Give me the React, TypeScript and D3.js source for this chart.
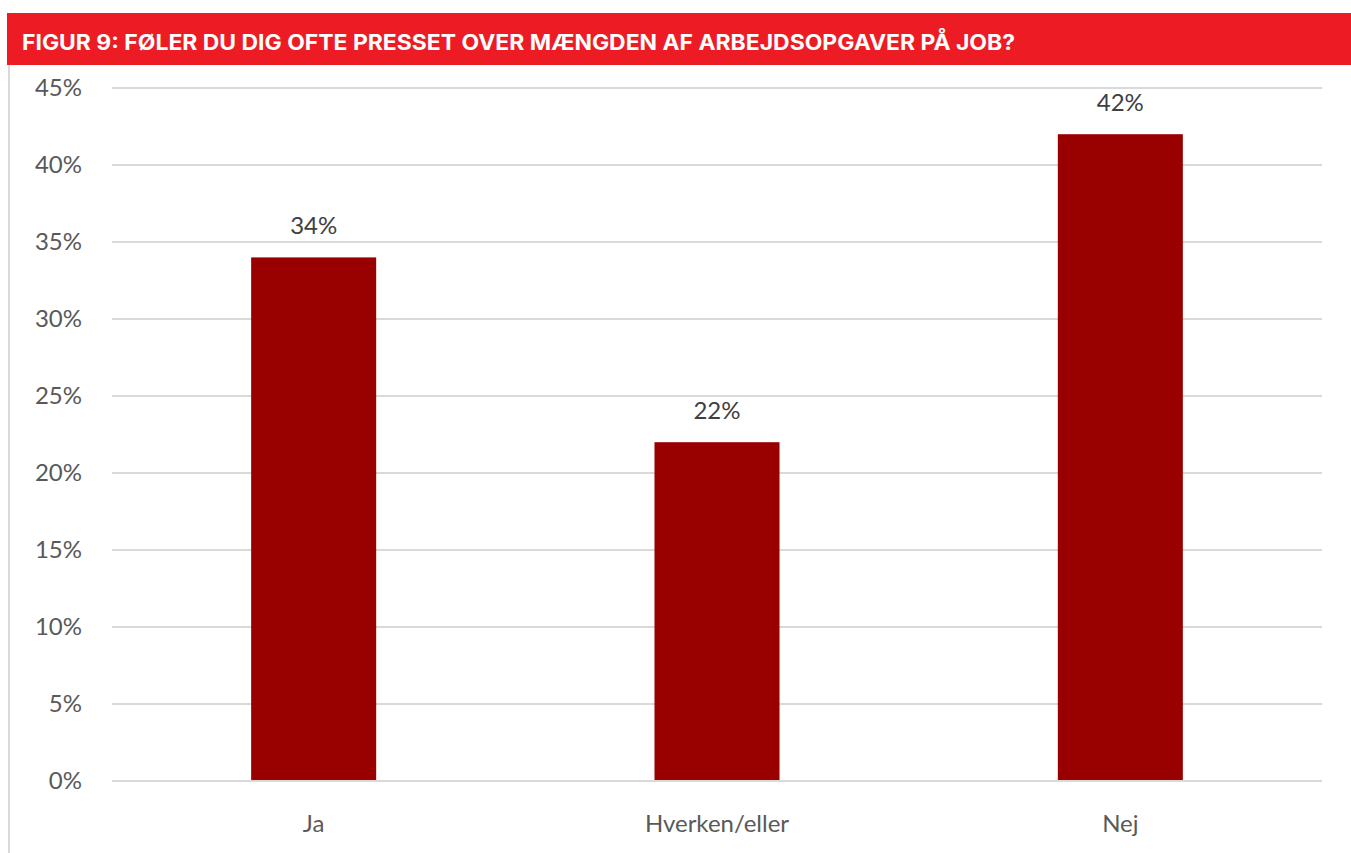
import React from 'react';
import * as d3 from 'd3';

const categories = ['Ja', 'Hverken/eller', 'Nej'];
const values = [0.34, 0.22, 0.42];
const yTicks = [0, 0.05, 0.1, 0.15, 0.2, 0.25, 0.3, 0.35, 0.4, 0.45];
const title = 'FIGUR 9: FØLER DU DIG OFTE PRESSET OVER MÆNGDEN AF ARBEJDSOPGAVER PÅ JOB?';

const W = 1351;
const H = 853;
const margin = { top: 88, right: 29, bottom: 72, left: 112 };

export default function App() {
  const x = d3
    .scaleBand()
    .domain(categories)
    .range([margin.left, W - margin.right])
    .paddingInner(0.69)
    .paddingOuter(0.345);
  const y = d3.scaleLinear().domain([0, 0.45]).range([H - margin.bottom, margin.top]);
  const fmt = d3.format('.0%');
  const font = 'Lato, "Open Sans", sans-serif';

  return (
    <svg
      width={W}
      height={H}
      style={{ position: 'absolute', left: 0, top: 0, background: '#fff' }}
    >
      {/* title band */}
      <rect x={7} y={13} width={W - 7} height={52} fill="#ed1c24" />
      <text
        x={22}
        y={50}
        fill="#fff"
        fontFamily='Inter, "Open Sans", sans-serif'
        fontWeight={700}
        fontSize={21.5}
        textLength={993}
        lengthAdjust="spacingAndGlyphs"
      >
        {title}
      </text>
      {/* left frame line */}
      <line x1={9} x2={9} y1={65} y2={H} stroke="#d9d9d9" strokeWidth={2} />

      {/* gridlines and tick labels */}
      {yTicks.map((t) => (
        <g key={t}>
          <line
            x1={margin.left}
            x2={W - margin.right}
            y1={y(t)}
            y2={y(t)}
            stroke="#d9d9d9"
            strokeWidth={2}
          />
          <text
            x={82}
            y={y(t)}
            dy="0.35em"
            textAnchor="end"
            fill="#595959"
            fontFamily={font}
            fontSize={24}
          >
            {fmt(t)}
          </text>
        </g>
      ))}

      {/* bars */}
      {categories.map((c, i) => (
        <g key={c}>
          <rect
            x={x(c)}
            y={y(values[i])}
            width={x.bandwidth()}
            height={y(0) - y(values[i]) - 1}
            fill="#990000"
          />
          <text
            x={(x(c) as number) + x.bandwidth() / 2}
            y={y(values[i]) - 23}
            textAnchor="middle"
            fill="#404040"
            fontFamily={font}
            fontSize={24}
          >
            {fmt(values[i])}
          </text>
          <text
            x={(x(c) as number) + x.bandwidth() / 2}
            y={y(0) + 51}
            textAnchor="middle"
            fill="#595959"
            fontFamily={font}
            fontSize={24}
          >
            {c}
          </text>
        </g>
      ))}
    </svg>
  );
}
